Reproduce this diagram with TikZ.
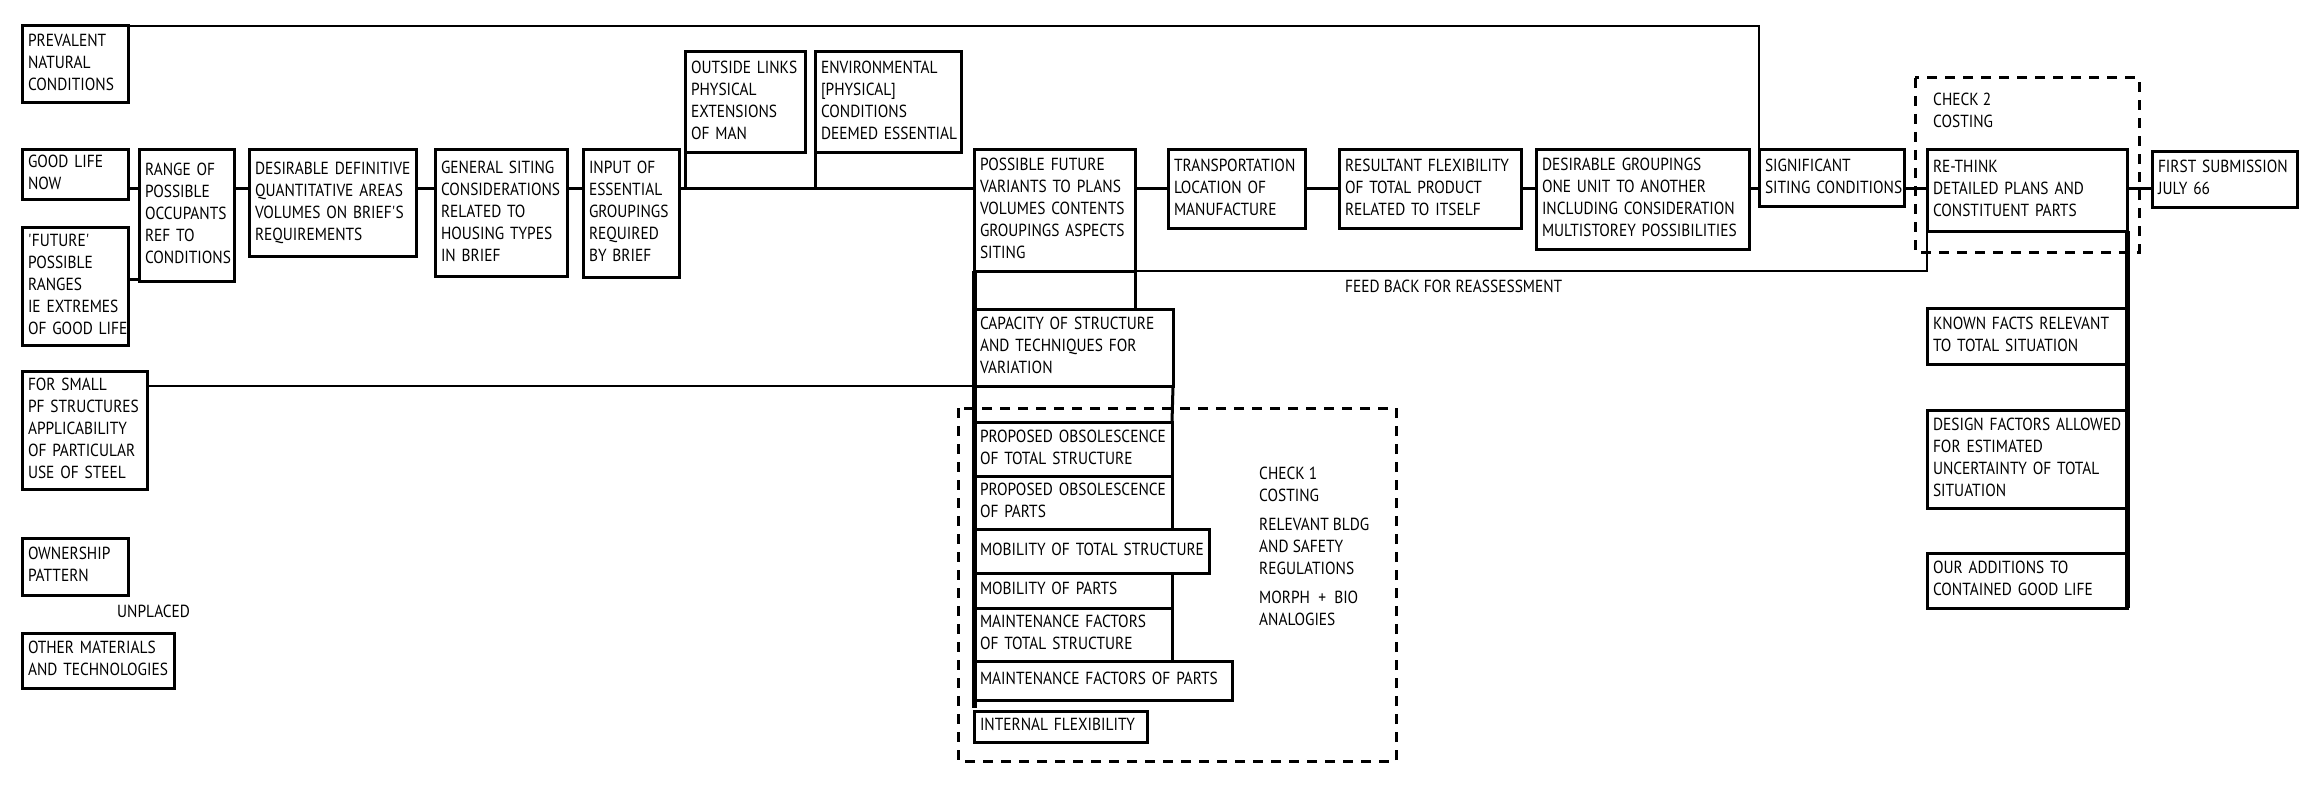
\documentclass[tikz,border=0pt]{standalone}
\usepackage{fontspec}
\setmainfont{PT Sans}[FakeStretch=0.88]

\newcommand{\blines}[1]{\begin{tabular}{@{}l@{}}#1\end{tabular}}
\tikzset{
  blk/.style 2 args={draw, line width=3pt, anchor=north west, outer sep=0pt,
    inner xsep=6pt, inner ysep=2pt, text width={#1-12}, minimum height=#2,
    align=left},
  link/.style={line width=3pt},
  thinlink/.style={line width=2.2pt},
  spine/.style={line width=5pt},
  chk/.style={line width=3pt, dash pattern=on 10pt off 8pt},
  note/.style={anchor=north west, align=left, inner sep=0pt}
}

\begin{document}
\begin{tikzpicture}[x=1pt, y=-1pt, font=\fontsize{17.5}{22}\selectfont]
    \useasboundingbox (0,0) rectangle (2316,789);
    \coordinate (main) at (0,188);

    % left column
    \node[blk={106}{77}] (pnc) at (22,26) {\blines{PREVALENT\\NATURAL\\CONDITIONS}};
    \node[blk={106}{49}] (gln) at (22,150) {\blines{GOOD LIFE\\NOW}};
    \node[blk={106}{118}] (fut) at (22,227) {\blines{\textquotesingle FUTURE\textquotesingle\\POSSIBLE\\RANGES\\IE EXTREMES\\OF GOOD LIFE}};
    \node[blk={125}{118}] (fsm) at (22,371) {\blines{FOR SMALL\\PF STRUCTURES\\APPLICABILITY\\OF PARTICULAR\\USE OF STEEL}};
    \node[blk={106}{57}] (own) at (22,538) {\blines{OWNERSHIP\\PATTERN}};
    \node[note, anchor=west] (unp) at (117,611) {UNPLACED};
    \node[blk={152}{55}] (omt) at (22,633) {\blines{OTHER MATERIALS\\AND TECHNOLOGIES}};

    % main row
    \node[blk={95}{131}] (rng) at (139,150) {\blines{RANGE OF\\POSSIBLE\\OCCUPANTS\\REF TO\\CONDITIONS}};
    \node[blk={167}{106}] (ddf) at (249,150) {\blines{DESIRABLE DEFINITIVE\\QUANTITATIVE AREAS\\VOLUMES ON BRIEF\textquotesingle S\\REQUIREMENTS}};
    \node[blk={132}{126}] (gsc) at (435,150) {\blines{GENERAL SITING\\CONSIDERATIONS\\RELATED TO\\HOUSING TYPES\\IN BRIEF}};
    \node[blk={96}{127}] (inp) at (583,150) {\blines{INPUT OF\\ESSENTIAL\\GROUPINGS\\REQUIRED\\BY BRIEF}};
    \node[blk={120}{101}] (ol) at (685,52) {\blines{OUTSIDE LINKS\\PHYSICAL\\EXTENSIONS\\OF MAN}};
    \node[blk={146}{101}] (env) at (815,52) {\blines{ENVIRONMENTAL\\{[PHYSICAL]}\\CONDITIONS\\DEEMED ESSENTIAL}};
    \node[blk={161}{121}] (pf) at (974,150) {\blines{POSSIBLE FUTURE\\VARIANTS TO PLANS\\VOLUMES CONTENTS\\GROUPINGS ASPECTS\\SITING}};
    \node[blk={137}{78}] (tr) at (1168,150) {\blines{TRANSPORTATION\\LOCATION OF\\MANUFACTURE}};
    \node[blk={182}{78}] (rf) at (1339,150) {\blines{RESULTANT FLEXIBILITY\\OF TOTAL PRODUCT\\RELATED TO ITSELF}};
    \node[blk={213}{99}] (dg) at (1536,150) {\blines{DESIRABLE GROUPINGS\\ONE UNIT TO ANOTHER\\INCLUDING CONSIDERATION\\MULTISTOREY POSSIBILITIES}};
    \node[blk={145}{56}] (sig) at (1759,150) {\blines{SIGNIFICANT\\SITING CONDITIONS}};
    \node[blk={200}{81}] (rt) at (1927,150) {\blines{RE-THINK\\DETAILED PLANS AND\\CONSTITUENT PARTS}};
    \node[blk={145}{55}] (fsub) at (2152,152) {\blines{FIRST SUBMISSION\\JULY 66}};

    % right column
    \node[blk={200}{56}] (kf) at (1927,308) {\blines{KNOWN FACTS RELEVANT\\TO TOTAL SITUATION}};
    \node[blk={200}{98}] (df) at (1927,410) {\blines{DESIGN FACTORS ALLOWED\\FOR ESTIMATED\\UNCERTAINTY OF TOTAL\\SITUATION}};
    \node[blk={200}{55}] (oa) at (1927,553) {\blines{OUR ADDITIONS TO\\CONTAINED GOOD LIFE}};

    % structure column
    \node[blk={199}{77}] (cap) at (974,309) {\blines{CAPACITY OF STRUCTURE\\AND TECHNIQUES FOR\\VARIATION}};
    \node[blk={198}{54}] (pot) at (974,422) {\blines{PROPOSED OBSOLESCENCE\\OF TOTAL STRUCTURE}};
    \node[blk={198}{53}] (pop) at (974,476) {\blines{PROPOSED OBSOLESCENCE\\OF PARTS}};
    \node[blk={235}{44}] (mts) at (974,529) {\blines{MOBILITY OF TOTAL STRUCTURE}};
    \node[blk={198}{35}] (mp) at (974,573) {\blines{MOBILITY OF PARTS}};
    \node[blk={198}{53}] (mft) at (974,608) {\blines{MAINTENANCE FACTORS\\OF TOTAL STRUCTURE}};
    \node[blk={258}{39}] (mfp) at (974,661) {\blines{MAINTENANCE FACTORS OF PARTS}};
    \node[blk={173}{31}] (intf) at (974,711) {\blines{INTERNAL FLEXIBILITY}};

    % checks
    \draw[chk] (958,408) rectangle (1396,761);
    \node[note] (chka) at (1259,467) {CHECK 1\\COSTING\\[7pt]RELEVANT BLDG\\AND SAFETY\\REGULATIONS\\[7pt]MORPH\ \ +\ \ BIO\\ANALOGIES};
    \draw[chk] (1915,78) rectangle (2139,252);
    \node[note] (chkb) at (1933,93) {CHECK 2\\COSTING};

    % connectors
    \draw[link] (gln.east |- main) -- (rng.west |- main);
    \draw[link] ([yshift=2pt]rng.south west -| fut.east) -- ([yshift=2pt]rng.south west);
    \draw[link] (rng.east |- main) -- (ddf.west |- main);
    \draw[link] (ddf.east |- main) -- (gsc.west |- main);
    \draw[link] (gsc.east |- main) -- (inp.west |- main);
    \draw[link] (inp.east |- main) -- (pf.west |- main);
    \draw[link] (ol.south west) -- (ol.south west |- main);
    \draw[link] (env.south west) -- (env.south west |- main);
    \draw[link] (pf.east |- main) -- (tr.west |- main);
    \draw[link] (tr.east |- main) -- (rf.west |- main);
    \draw[link] (rf.east |- main) -- (dg.west |- main);
    \draw[link] (dg.east |- main) -- (sig.west |- main);
    \draw[link] (sig.east |- main) -- (rt.west |- main);
    \draw[link] (rt.east |- main) -- (fsub.west |- main);
    \draw[thinlink] (pnc.north east) -| (sig.north west);
    \draw[thinlink] (rt.south west) |- (pf.south east);
    \node[note, anchor=west] (fb) at (1345,286) {FEED BACK FOR REASSESSMENT};
    \draw[link] (pf.south east) -- (pf.south east |- cap.north);
    \draw[link] (cap.south east) -- (pot.north east);
    \draw[thinlink] (fsm.east |- cap.south west) -- (cap.south west);
    \draw[spine] (pf.south west) -- ([yshift=3pt]intf.north west);
    \draw[spine] (rt.south east) -- (oa.south east);
\end{tikzpicture}
\end{document}
